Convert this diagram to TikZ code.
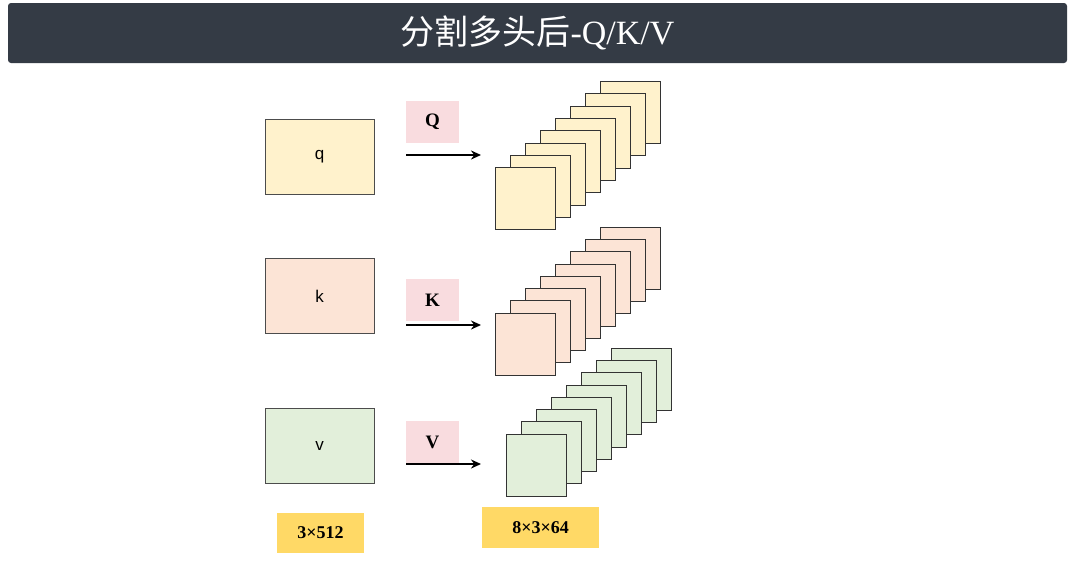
\documentclass[tikz,border=0pt]{standalone}
\usepackage{fontspec}
\setmainfont{Liberation Serif}
\setsansfont{Liberation Sans}
\newfontfamily\cjk{Noto Sans CJK SC}
\usetikzlibrary{arrows.meta}
\definecolor{titlebg}{HTML}{343B45}
\definecolor{qy}{HTML}{FFF2CC}
\definecolor{kp}{HTML}{FCE4D6}
\definecolor{vg}{HTML}{E2EFDA}
\definecolor{lblpink}{HTML}{F9DCDF}
\definecolor{gold}{HTML}{FFD966}
\tikzset{
  inbox/.style={draw=black!70,line width=0.6pt,minimum width=109pt,minimum height=75pt,font=\sffamily\fontsize{17}{17}\selectfont,inner sep=0pt},
  head/.style={draw=black!80,line width=0.6pt,minimum width=60pt,minimum height=62pt,inner sep=0pt},
  tag/.style={fill=lblpink,minimum width=53pt,minimum height=42pt,font=\bfseries\fontsize{19}{19}\selectfont,inner sep=0pt},
  dim/.style={fill=gold,font=\bfseries\fontsize{18}{18}\selectfont,inner sep=0pt},
  arr/.style={-{Stealth[length=10pt,width=9pt]},line width=2pt}
}
\begin{document}
\begin{tikzpicture}[x=1pt,y=-1pt]
\useasboundingbox[fill=white] (0,0) rectangle (1075,570);
\node[fill=titlebg,rounded corners=3pt,minimum width=1059pt,minimum height=60pt,inner sep=0pt,text=white,font=\fontsize{34}{34}\selectfont] (title) at (537.5,33) {{\cjk 分割多头后}-Q/K/V};
% inputs
\node[inbox,fill=qy] (q) at (319.5,156.5) {q};
\node[inbox,fill=kp] (k) at (319.5,296) {k};
\node[inbox,fill=vg] (v) at (319.5,446) {v};
% tags
\node[tag] (tQ) at (432.5,121.5) {Q};
\node[tag] (tK) at (432.5,300) {K};
\node[tag] (tV) at (432.5,442) {V};
% arrows
\coordinate (aQs) at (406,155); \coordinate (aQe) at (481,155);
\coordinate (aKs) at (406,325); \coordinate (aKe) at (481,325);
\coordinate (aVs) at (406,464); \coordinate (aVe) at (481,464);
\draw[arr] (aQs) -- (aQe);
\draw[arr] (aKs) -- (aKe);
\draw[arr] (aVs) -- (aVe);
% stacks
\foreach \i in {7,6,...,0}{
  \node[head,fill=qy] (sq\i) at (525.5+15*\i,198.5-12.3*\i) {};
  \node[head,fill=kp] (sk\i) at (525.5+15*\i,344-12.3*\i) {};
  \node[head,fill=vg] (sv\i) at (536.5+15*\i,465-12.3*\i) {};
}
% dims
\node[dim,minimum width=87pt,minimum height=40pt] (d1) at (320.5,533) {3×512};
\node[dim,minimum width=117pt,minimum height=41pt] (d2) at (540.5,527.5) {8×3×64};
\end{tikzpicture}
\end{document}
